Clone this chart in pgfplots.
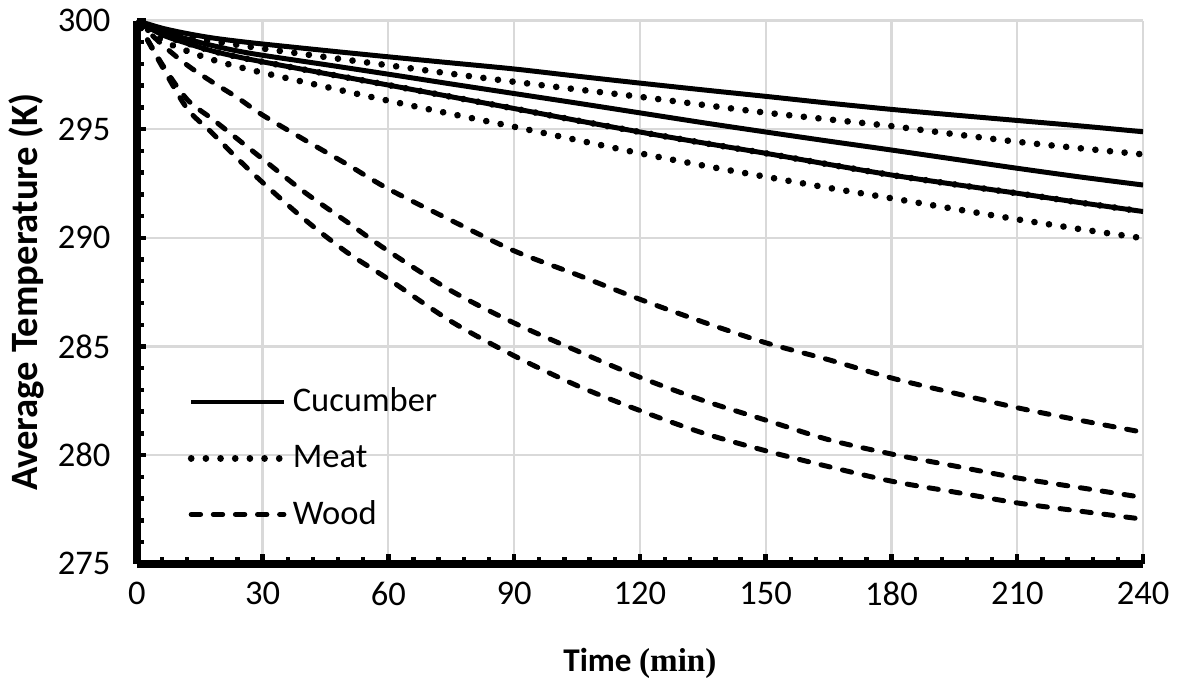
\documentclass[border=0pt]{standalone}
\usepackage{fontspec}
\setmainfont{Carlito}
\newfontfamily\timesfont{Liberation Serif}
\usepackage{pgfplots}
\pgfplotsset{compat=1.18}
\usepackage{pgfplotstable}

% cucumber (s1..s3) and meat (d1, d3; the middle meat curve lies on s3)
\pgfplotstableread{
t    s1     s2     s3     d1     d3
0    300.00 300.00 300.00 300.00 300.00
6    299.65 299.50 299.35 299.55 299.10
12   299.40 299.15 298.95 299.30 298.60
18   299.20 298.85 298.60 299.05 298.20
24   299.05 298.60 298.33 298.88 297.88
30   298.92 298.40 298.10 298.71 297.60
45   298.62 297.97 297.56 298.32 296.95
60   298.33 297.53 297.03 297.94 296.31
75   298.05 297.08 296.49 297.55 295.70
90   297.77 296.64 295.95 297.18 295.11
105  297.44 296.20 295.40 296.83 294.50
120  297.12 295.75 294.87 296.49 293.89
135  296.81 295.30 294.37 296.12 293.33
150  296.51 294.87 293.89 295.76 292.81
165  296.20 294.45 293.38 295.45 292.30
180  295.91 294.04 292.89 295.14 291.82
195  295.65 293.62 292.46 294.77 291.33
210  295.40 293.20 292.05 294.42 290.85
225  295.15 292.80 291.62 294.12 290.40
240  294.88 292.43 291.21 293.84 289.98
}\cmtable

% wood
\pgfplotstableread{
t    w1     w2     w3
0    300.00 300.00 300.00
6    298.90 298.00 297.90
12   297.95 296.37 295.95
18   297.17 295.47 294.82
24   296.45 294.55 293.65
30   295.65 293.63 292.55
40   294.51 292.10 290.85
50   293.40 290.75 289.35
60   292.25 289.39 288.10
75   290.80 287.56 286.15
90   289.40 286.08 284.57
105  288.30 284.80 283.20
120  287.17 283.58 282.05
135  286.13 282.52 281.02
150  285.17 281.61 280.20
165  284.39 280.71 279.47
180  283.55 280.05 278.80
195  282.85 279.50 278.30
210  282.18 278.95 277.80
225  281.60 278.50 277.42
240  281.05 278.05 277.05
}\woodtable

\begin{document}
\begin{tikzpicture}[
  solidline/.style={black, line width=1.8pt, line join=round},
  dotline/.style={black, line width=2.4pt, line cap=round, dash pattern=on 0.01pt off 5.3pt},
  dashline/.style={black, line width=1.8pt, line cap=round, dash pattern=on 3.4pt off 4.6pt},
]
\begin{axis}[
  name=ax,
  scale only axis,
  width=12.8cm, height=6.91cm,
  xmin=0, xmax=240, ymin=275, ymax=300,
  xtick={0,30,...,240}, ytick={275,280,...,300},
  minor x tick num=4, minor y tick num=4,
  axis lines=left,
  axis line style={-, black, line width=2.9pt},
  grid=major,
  major grid style={draw=black!15, line width=0.8pt},
  tick align=inside,
  major tick length=3.5pt, minor tick length=2.5pt,
  tick style={black, line width=1.6pt},
  /pgf/number format/assume math mode=true,
  tick label style={font=\fontsize{12.5}{14}\selectfont},
  xticklabel style={yshift=-3pt},
  yticklabel style={xshift=-6pt},
  xlabel style={font=\fontsize{12}{14}\selectfont\bfseries, yshift=-8.5pt},
  ylabel style={font=\fontsize{14}{16}\selectfont\bfseries, yshift=-2pt},
  xlabel={Time {\timesfont (min)}},
  ylabel={Average Temperature (K)},
  legend style={at={(0.042,0.345)}, anchor=north west, draw=none, fill=none,
    font=\fontsize{12.5}{14}\selectfont, row sep=6.5pt,
    /tikz/every even column/.append style={column sep=0pt}},
  legend cell align=left,
  legend image code/.code={\draw[#1] (0cm,0cm) -- (1.18cm,0cm);},
]
\addplot[solidline, smooth] table[x=t, y=s1] {\cmtable};
\addlegendentry{Cucumber}
\addplot[dotline, smooth] table[x=t, y=d1] {\cmtable};
\addlegendentry{Meat}
\addplot[dashline, smooth] table[x=t, y=w1] {\woodtable};
\addlegendentry{Wood}
\addplot[solidline, smooth, forget plot] table[x=t, y=s2] {\cmtable};
\addplot[solidline, smooth, forget plot] table[x=t, y=s3] {\cmtable};
\addplot[dotline, smooth, forget plot] table[x=t, y=s3] {\cmtable};
\addplot[dotline, smooth, forget plot] table[x=t, y=d3] {\cmtable};
\addplot[dashline, smooth, forget plot] table[x=t, y=w2] {\woodtable};
\addplot[dashline, smooth, forget plot] table[x=t, y=w3] {\woodtable};
\end{axis}
\path (ax.south west) ++(-1.71cm,-1.5cm);
\path (ax.north east) ++(0.47cm,0.22cm);
\end{tikzpicture}
\end{document}
